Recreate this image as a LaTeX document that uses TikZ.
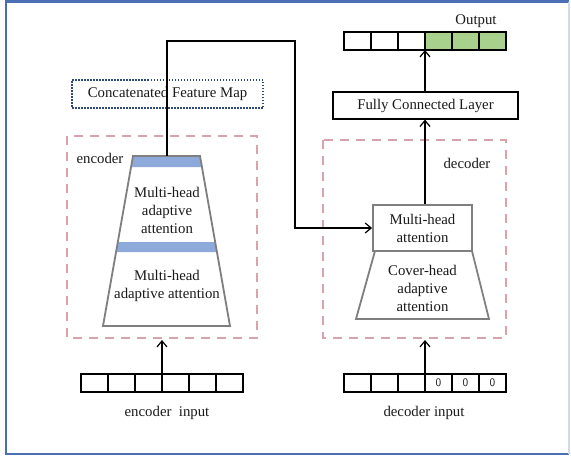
\documentclass[tikz,border=0pt]{standalone}
\usepackage{fontspec}
\setmainfont{Liberation Serif}
\usetikzlibrary{arrows.meta}
\definecolor{frameblue}{HTML}{4A6FB5}
\definecolor{pinkdash}{HTML}{D9A3AD}
\definecolor{bandblue}{HTML}{8EAADB}
\definecolor{outgreen}{HTML}{A9D18E}
\definecolor{dotblue}{HTML}{2E4A78}
\definecolor{trapgray}{HTML}{7F7F7F}
\definecolor{txt}{HTML}{1A1A1A}
\tikzset{
  arr/.style={line width=1.2pt, -{Straight Barb[length=6pt,width=10pt,line width=1.2pt]}},
  cellbox/.style={draw=black, line width=1.2pt, minimum width=27pt, minimum height=18pt, inner sep=0pt, outer sep=0pt},
  greencell/.style={cellbox, fill=outgreen},
  zerotext/.style={font=\sffamily\fontsize{11.5}{12}\selectfont, text=txt},
  pinkbox/.style={draw=pinkdash, line width=1.5pt, dash pattern=on 9pt off 7pt},
  trap/.style={draw=trapgray, line width=1.8pt, line join=miter},
  band/.style={fill=bandblue, draw=none},
  label/.style={text=txt, align=center, inner sep=0pt},
  fcbox/.style={draw=black, line width=1.2pt, minimum width=185pt, minimum height=27pt, inner sep=0pt, text=txt},
  mhabox/.style={draw=trapgray, line width=1.8pt, minimum width=99pt, minimum height=46pt, inner sep=0pt, align=center, text=txt},
  concatbox/.style={draw=dotblue, line width=1.5pt, dash pattern=on 1.5pt off 1.5pt, minimum width=191pt, minimum height=28pt, inner sep=0pt, text=txt}
}
\begin{document}
\begin{tikzpicture}[x=1pt, y=-1pt, font=\fontsize{14.8}{18}\selectfont]
\useasboundingbox (0,0) rectangle (571,458);
\fill[white] (0,0) rectangle (571,458);
% frame
\draw[frameblue, line width=2.5pt] (569,1.5) -- (6,1.5) -- (6,454) -- (569,454);
\draw[frameblue!25, line width=1.5pt] (569,1.5) -- (569,454);

% dashed boxes
\draw[pinkbox] (67,136) rectangle (257,338);
\draw[pinkbox] (323,140) rectangle (506,338);
\node[label] (enclabel) at (100,158) {encoder};
\node[label] (declabel) at (467,163) {decoder};

% concatenated feature map
\node[concatbox] (concat) at (167.5,94) {Concatenated Feature Map};

% encoder trapezoid
\fill[white] (133,156) -- (200,156) -- (230,326) -- (103,326) -- cycle;
\fill[band] (133,156) -- (200,156) -- (201.9,167) -- (131.1,167) -- cycle;
\fill[band] (117.8,242) -- (215.2,242) -- (216.9,252) -- (116.1,252) -- cycle;
\draw[trap] (133,156) -- (200,156) -- (230,326) -- (103,326) -- cycle;
\node[label] (enc1) at (167,210) {Multi-head\\adaptive\\attention};
\node[label] (enc2) at (167,286) {Multi-head\\adaptive attention};
\coordinate (encTop) at (167,156);

% decoder
\node[mhabox] (mha) at (422.5,228) {Multi-head\\attention};
\draw[trap] (375,251) -- (472,251) -- (489,319) -- (356,319) -- cycle;
\node[label] (dec1) at (422.5,288) {Cover-head\\adaptive\\attention};

% fully connected
\node[fcbox] (fc) at (425.5,105.5) {Fully Connected Layer};

% output cells
\foreach \i in {1,2,3} {
  \node[cellbox] (out\i) at ({344+27*\i-13.5},41) {};
}
\foreach \i in {4,5,6} {
  \node[greencell] (out\i) at ({344+27*\i-13.5},41) {};
}
\node[label] (outlabel) at (476,21) {Output};

% encoder input cells
\foreach \i in {1,...,6} {
  \node[cellbox] (ein\i) at ({81+27*\i-13.5},383) {};
}
\node[label] (einlabel) at (167,413) {encoder\ \ input};

% decoder input cells
\foreach \i in {1,2,3} {
  \node[cellbox] (din\i) at ({344+27*\i-13.5},383) {};
}
\foreach \i in {4,5,6} {
  \node[cellbox, zerotext] (din\i) at ({344+27*\i-13.5},383) {0};
}
\node[label] (dinlabel) at (424,413) {decoder input};

% connectors
\coordinate (encArr) at (162,340);
\coordinate (decArr) at (425,340);
\draw[arr] (ein3.north east) -- (encArr);
\draw[arr] (din3.north east) -- (decArr);
\draw[arr] (encTop) -- (167,41) -- (295,41) |- (mha.west);
\draw[arr] (mha.north -| out3.south east) -- (fc.south -| out3.south east);
\draw[arr] (fc.north -| out3.south east) -- (out3.south east);
\end{tikzpicture}
\end{document}
